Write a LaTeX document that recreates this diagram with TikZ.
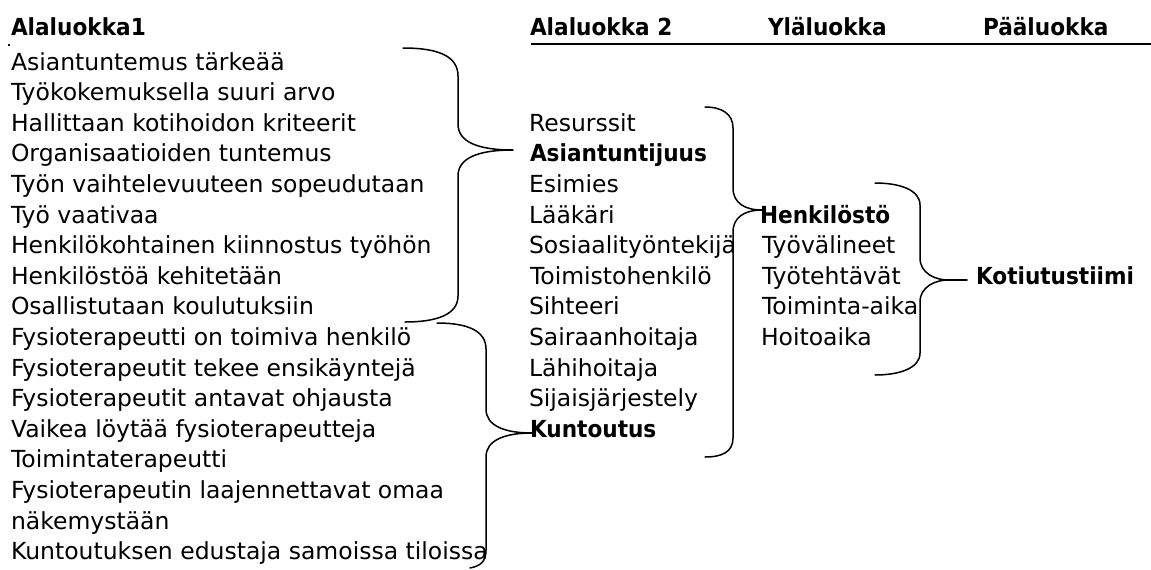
\documentclass[tikz,border=0pt]{standalone}
\usepackage{fontspec}
\setmainfont{DejaVu Sans}
\newfontfamily\hb{DejaVu Sans}[FakeStretch=0.92]
\begin{document}
\begin{tikzpicture}[x=1pt,y=-1pt,
  txt/.style={anchor=base west,inner sep=0pt,outer sep=0pt,font=\fontsize{23.5}{28}\selectfont},
  btxt/.style={anchor=base west,inner sep=0pt,outer sep=0pt,font=\fontsize{23.5}{28}\selectfont\hb\bfseries},
  brace/.style={line width=1.5pt,line cap=round,line join=round},
  rule/.style={line width=2pt}]
\useasboundingbox[fill=white] (0,0) rectangle (1151,570);
% headers
\node[btxt] (h1) at (11,35) {Alaluokka1};
\node[btxt] (h2) at (530,35) {Alaluokka 2};
\node[btxt] (h3) at (768,35) {Yläluokka};
\node[btxt] (h4) at (983,35) {Pääluokka};
\coordinate (rs) at (531,44);
\coordinate (re) at (1151,44);
\draw[rule] (rs) -- (re);
\coordinate (dot) at (8,44);
\fill (dot) rectangle ++(2,2);
% left column
\node[txt] (l0) at (11,70.0) {Asiantuntemus tärkeää};
\node[txt] (l1) at (11,100.6) {Työkokemuksella suuri arvo};
\node[txt] (l2) at (11,131.2) {Hallittaan kotihoidon kriteerit};
\node[txt] (l3) at (11,161.8) {Organisaatioiden tuntemus};
\node[txt] (l4) at (11,192.4) {Työn vaihtelevuuteen sopeudutaan};
\node[txt] (l5) at (11,223.0) {Työ vaativaa};
\node[txt] (l6) at (11,253.6) {Henkilökohtainen kiinnostus työhön};
\node[txt] (l7) at (11,284.2) {Henkilöstöä kehitetään};
\node[txt] (l8) at (11,314.8) {Osallistutaan koulutuksiin};
\node[txt] (l9) at (11,345.4) {Fysioterapeutti on toimiva henkilö};
\node[txt] (l10) at (11,376.0) {Fysioterapeutit tekee ensikäyntejä};
\node[txt] (l11) at (11,406.6) {Fysioterapeutit antavat ohjausta};
\node[txt] (l12) at (11,437.2) {Vaikea löytää fysioterapeutteja};
\node[txt] (l13) at (11,467.8) {Toimintaterapeutti};
\node[txt] (l14) at (11,498.4) {Fysioterapeutin laajennettavat omaa};
\node[txt] (l15) at (11,529.0) {näkemystään};
\node[txt] (l16) at (11,559.6) {Kuntoutuksen edustaja samoissa tiloissa};
% Alaluokka 2 column
\node[txt] (m2) at (529,131.2) {Resurssit};
\node[btxt] (m3) at (530,161.8) {Asiantuntijuus};
\node[txt] (m4) at (529,192.4) {Esimies};
\node[txt] (m5) at (529,223.0) {Lääkäri};
\node[txt] (m6) at (529,253.6) {Sosiaalityöntekijä};
\node[txt] (m7) at (530,284.2) {Toimistohenkilö};
\node[txt] (m8) at (529,314.8) {Sihteeri};
\node[txt] (m9) at (529,345.4) {Sairaanhoitaja};
\node[txt] (m10) at (529,376.0) {Lähihoitaja};
\node[txt] (m11) at (529,406.6) {Sijaisjärjestely};
\node[btxt] (m12) at (530,437.2) {Kuntoutus};
% Yläluokka column
\node[btxt] (y5) at (760,223.0) {Henkilöstö};
\node[txt] (y6) at (762,253.6) {Työvälineet};
\node[txt] (y7) at (762,284.2) {Työtehtävät};
\node[txt] (y8) at (762,314.8) {Toiminta-aika};
\node[txt] (y9) at (761,345.4) {Hoitoaika};
% Pääluokka
\node[btxt] (p7) at (976,284.2) {Kotiutustiimi};
% brace coordinates
\coordinate (b1t) at (403,48);
\coordinate (b1m) at (513,150);
\coordinate (b1b) at (405,322);
\coordinate (b2t) at (437,323);
\coordinate (b2m) at (532,433);
\coordinate (b2b) at (470,568);
\coordinate (b3t) at (705,107);
\coordinate (b3m) at (762,210);
\coordinate (b3b) at (705,457);
\coordinate (b4t) at (875,183);
\coordinate (b4m) at (948,280);
\coordinate (b4e) at (967,280);
\coordinate (b4b) at (875,375);
% braces
\draw[brace] (b1t) .. controls (438,48) and (458,56) .. (458,76) -- (458,124)
  .. controls (458,142) and (478,150) .. (b1m)
  .. controls (478,150) and (458,158) .. (458,176) -- (458,296)
  .. controls (458,314) and (438,322) .. (b1b);
\draw[brace] (b2t) .. controls (468,323) and (486,331) .. (486,349) -- (486,409)
  .. controls (486,426) and (505,433) .. (b2m)
  .. controls (505,433) and (486,440) .. (486,457) -- (486,550)
  .. controls (486,562) and (480,566) .. (b2b);
\draw[brace] (b3t) .. controls (722,107) and (733,114) .. (733,128) -- (733,188)
  .. controls (733,203) and (745,210) .. (b3m)
  .. controls (745,210) and (733,217) .. (733,232) -- (733,438)
  .. controls (733,452) and (722,457) .. (b3b);
\draw[brace] (b4t) .. controls (900,183) and (920,190) .. (920,205) -- (920,258)
  .. controls (920,273) and (935,280) .. (b4m)
  .. controls (935,280) and (920,287) .. (920,302) -- (920,353)
  .. controls (920,368) and (900,375) .. (b4b);
\draw[brace] (b4m) -- (b4e);
\end{tikzpicture}
\end{document}
